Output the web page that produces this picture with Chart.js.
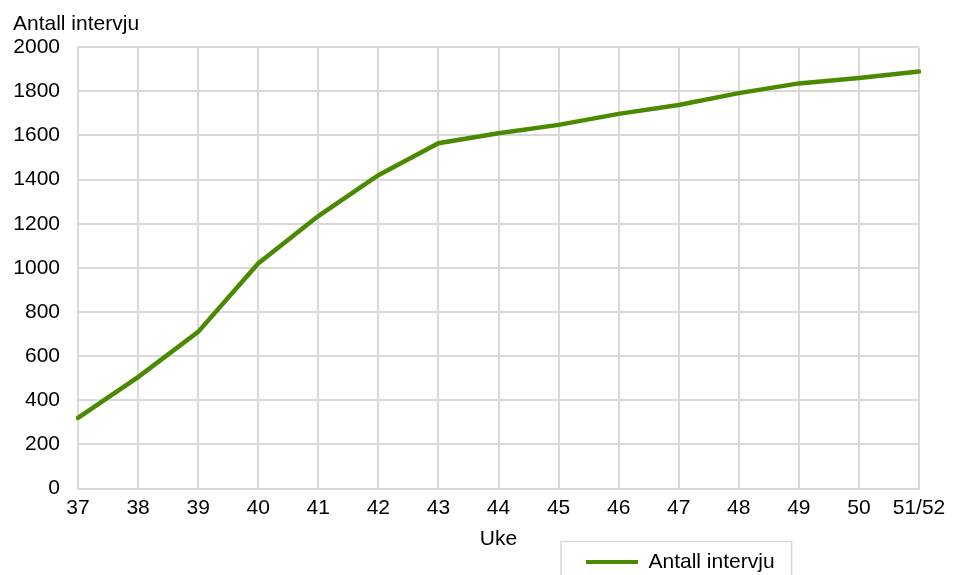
<!DOCTYPE html>
<html lang="no">
<head>
    <meta charset="UTF-8">
    <title>Antall intervju</title>
    <script src="https://cdn.jsdelivr.net/npm/chart.js"></script>
    <style>
        html, body {
            margin: 0;
            padding: 0;
            background: #ffffff;
        }
        #wrap {
            width: 956px;
            height: 575px;
        }
    </style>
</head>
<body>
    <div id="wrap"><canvas id="chart" width="956" height="575"></canvas></div>

    <script>
        const weeks = ['37', '38', '39', '40', '41', '42', '43', '44', '45', '46', '47', '48', '49', '50', '51/52'];
        const interviews = [320, 505, 710, 1020, 1235, 1420, 1565, 1610, 1648, 1698, 1738, 1792, 1836, 1860, 1890];
        const yTicks = [0, 200, 400, 600, 800, 1000, 1200, 1400, 1600, 1800, 2000];

        const green = '#4a8a00';
        const gridGrey = '#d9d9d9';
        const font = { family: 'Liberation Sans, Arial, sans-serif', size: 21 };

        // move the legend to the right and frame it like the original
        const legendBox = {
            id: 'legendBox',
            afterLayout(chart) {
                const lg = chart.legend;
                const dx = 586 - lg.left;
                const dy = -0.5;
                lg.left += dx;
                lg.right += dx;
                lg.top += dy;
                lg.bottom += dy;
            },
            afterDraw(chart) {
                const box = chart.legend.legendHitBoxes[0];
                if (!box) return;
                const c = chart.ctx;
                c.save();
                c.strokeStyle = gridGrey;
                c.lineWidth = 1.5;
                c.strokeRect(box.left - 25, 541.5, box.width + 25 + 17, 60);
                c.restore();
            }
        };

        new Chart(document.getElementById('chart'), {
            type: 'line',
            data: {
                labels: weeks,
                datasets: [{
                    label: 'Antall intervju',
                    data: interviews,
                    borderColor: green,
                    backgroundColor: green,
                    borderWidth: 4.5,
                    borderCapStyle: 'round',
                    pointRadius: 0,
                    tension: 0,
                    fill: false
                }]
            },
            options: {
                responsive: false,
                animation: false,
                layout: { padding: { left: 13, right: 37, top: 0, bottom: -8 } },
                scales: {
                    x: {
                        offset: false,
                        grid: { color: gridGrey, lineWidth: 2, drawTicks: false },
                        border: { color: gridGrey, width: 2 },
                        ticks: { color: '#000', font: font, padding: 7, maxRotation: 0, autoSkip: false },
                        title: { display: true, text: 'Uke', color: '#000', font: font, padding: { top: 6, bottom: 0 } },
                        afterFit(scale) {
                            // chart.js pads the labels on both sides; keep only the inner gap
                            scale.height -= 7;
                        }
                    },
                    y: {
                        min: 0,
                        max: 2000,
                        afterBuildTicks(axis) {
                            axis.ticks = yTicks.map(v => ({ value: v }));
                        },
                        grid: { color: gridGrey, lineWidth: 2, drawTicks: false },
                        border: { color: gridGrey, width: 2 },
                        ticks: { color: '#000', font: font, padding: 18, callback: v => String(v) },
                        afterFit(scale) {
                            scale.width = 65;
                        }
                    }
                },
                plugins: {
                    title: {
                        display: true,
                        text: 'Antall intervju',
                        align: 'start',
                        color: '#000',
                        font: { ...font, weight: 'normal' },
                        padding: { top: 12, bottom: 10 }
                    },
                    legend: {
                        position: 'bottom',
                        align: 'start',
                        labels: {
                            color: '#000',
                            font: font,
                            boxWidth: 52,
                            boxHeight: 4,
                            padding: 0,
                            generateLabels(chart) {
                                return chart.data.datasets.map((ds, i) => ({
                                    text: ds.label,
                                    fillStyle: ds.borderColor,
                                    strokeStyle: ds.borderColor,
                                    lineWidth: 0,
                                    fontColor: '#000',
                                    datasetIndex: i
                                }));
                            }
                        }
                    },
                    tooltip: { enabled: false }
                }
            },
            plugins: [legendBox]
        });
    </script>
</body>
</html>
